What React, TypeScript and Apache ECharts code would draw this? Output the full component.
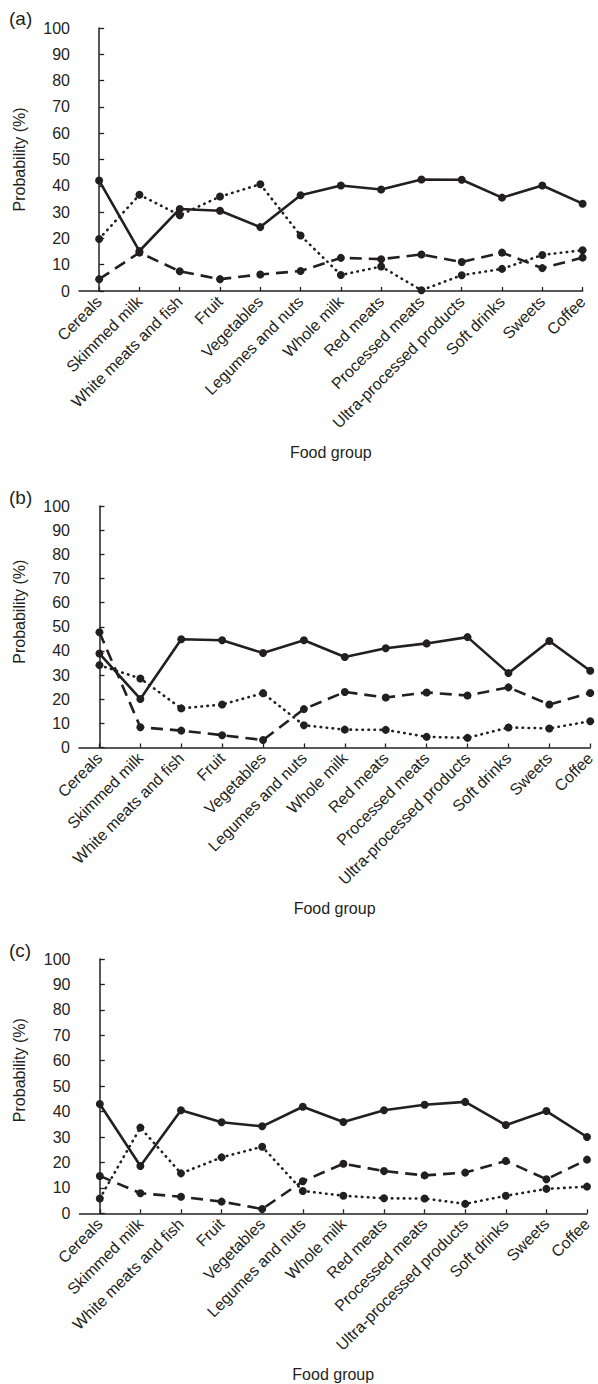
import React, { useEffect, useRef } from "react";
import * as echarts from "echarts";

const categories = [
  "Cereals",
  "Skimmed milk",
  "White meats and fish",
  "Fruit",
  "Vegetables",
  "Legumes and nuts",
  "Whole milk",
  "Red meats",
  "Processed meats",
  "Ultra-processed products",
  "Soft drinks",
  "Sweets",
  "Coffee",
];

const yTicks = [0, 10, 20, 30, 40, 50, 60, 70, 80, 90, 100];

// Panel (a)
const aSolid = [42, 15.2, 31.2, 30.5, 24.3, 36.4, 40.1, 38.6, 42.4, 42.3, 35.5, 40.1, 33.2];
const aDashed = [4.5, 14.6, 7.5, 4.5, 6.3, 7.6, 12.6, 12.1, 13.9, 11.0, 14.6, 8.7, 12.7];
const aDotted = [19.8, 36.6, 28.8, 35.9, 40.6, 21.1, 6.1, 9.3, 0.3, 6.0, 8.4, 13.7, 15.5];

// Panel (b)
const bSolid = [38.9, 20.1, 44.8, 44.4, 39.1, 44.4, 37.5, 41.1, 43.1, 45.7, 30.8, 44.1, 31.8];
const bDashed = [47.7, 8.4, 7.0, 5.1, 3.1, 15.9, 23.0, 20.7, 22.8, 21.5, 24.9, 17.8, 22.6];
const bDotted = [34.1, 28.6, 16.2, 17.8, 22.5, 9.2, 7.4, 7.3, 4.4, 4.0, 8.3, 7.9, 10.9];

// Panel (c)
const cSolid = [43.0, 18.6, 40.5, 35.8, 34.2, 41.9, 35.9, 40.5, 42.7, 43.8, 34.7, 40.2, 30.0];
const cDashed = [14.7, 7.9, 6.5, 4.6, 1.7, 12.6, 19.5, 16.6, 14.9, 16.0, 20.6, 13.4, 21.1];
const cDotted = [5.8, 33.7, 15.7, 22.0, 26.2, 8.8, 6.9, 5.9, 5.8, 3.7, 6.9, 9.6, 10.5];

const panelLabels = ["(a)", "(b)", "(c)"];

const INK = "#231f20";
const FONT = "'Liberation Sans', Arial, Helvetica, sans-serif";

export default function App() {
  const ref = useRef<HTMLDivElement>(null);

  useEffect(() => {
    if (!ref.current) return;
    const chart = echarts.init(ref.current, undefined, { renderer: "svg" });

    const grids = [
      { left: 79, top: 28, width: 503.6, height: 263 },
      { left: 79, top: 506, width: 512, height: 241.5 },
      { left: 79.5, top: 959, width: 507.5, height: 254.3 },
    ];
    const yNamePad = [0, 30, 32];
    const labelTops = [9, 488, 941];
    const panels = [
      [aSolid, aDashed, aDotted],
      [bSolid, bDashed, bDotted],
      [cSolid, cDashed, cDotted],
    ];
    const idx = categories.map((_, i) => i);

    const xAxis = grids.map((_, g) => ({
      type: "value",
      gridIndex: g,
      min: -0.5,
      max: 12,
      splitLine: { show: false },
      axisLine: { show: true, onZero: false, lineStyle: { color: INK, width: 1.5 } },
      axisTick: {
        show: true,
        inside: true,
        length: 4,
        customValues: idx,
        lineStyle: { color: INK, width: 1.3 },
      },
      axisLabel: {
        customValues: idx,
        formatter: (v: number) => categories[Math.round(v)] ?? "",
        rotate: 45,
        margin: 8,
        fontSize: 16,
        color: INK,
        fontFamily: FONT,
      },
      name: "Food group",
      nameLocation: "middle",
      nameGap: 153,
      nameTextStyle: { fontSize: 16, color: INK, fontFamily: FONT },
    }));

    const yAxis = grids.map((_, g) => ({
      type: "value",
      gridIndex: g,
      min: 0,
      max: 100,
      interval: 10,
      splitLine: { show: false },
      axisLine: { show: true, lineStyle: { color: INK, width: 1.5 } },
      axisTick: { show: true, inside: true, length: 5, lineStyle: { color: INK, width: 1.3 } },
      axisLabel: {
        margin: 9,
        fontSize: 16,
        color: INK,
        fontFamily: FONT,
        customValues: yTicks,
      },
      name: "Probability (%)",
      nameLocation: "middle",
      nameGap: 52,
      nameTextStyle: {
        fontSize: 16,
        color: INK,
        fontFamily: FONT,
        padding: [0, 0, 0, yNamePad[g]],
      },
    }));

    const styles = [
      { type: "solid", cap: "butt" },
      { type: [12, 7], cap: "butt" },
      { type: [0.5, 5.5], cap: "round" },
    ];

    const series: any[] = [];
    panels.forEach((lines, g) => {
      lines.forEach((vals, k) => {
        series.push({
          type: "line",
          xAxisIndex: g,
          yAxisIndex: g,
          data: vals.map((v, i) => [i, v]),
          symbol: "circle",
          symbolSize: 8,
          showSymbol: true,
          itemStyle: { color: INK },
          lineStyle: {
            color: INK,
            width: 2.6,
            type: styles[k].type as any,
            cap: styles[k].cap as any,
          },
          z: 3 - k,
          silent: true,
        });
      });
    });

    chart.setOption({
      animation: false,
      backgroundColor: "#ffffff",
      grid: grids,
      xAxis,
      yAxis,
      series,
      graphic: panelLabels.map((t, g) => ({
        type: "text",
        left: 9,
        top: labelTops[g],
        style: { text: t, fontSize: 19, fill: INK, fontFamily: FONT },
      })),
    } as any);

    return () => chart.dispose();
  }, []);

  return (
    <div
      ref={ref}
      style={{ position: "absolute", left: 0, top: 0, width: 598, height: 1384 }}
    />
  );
}
